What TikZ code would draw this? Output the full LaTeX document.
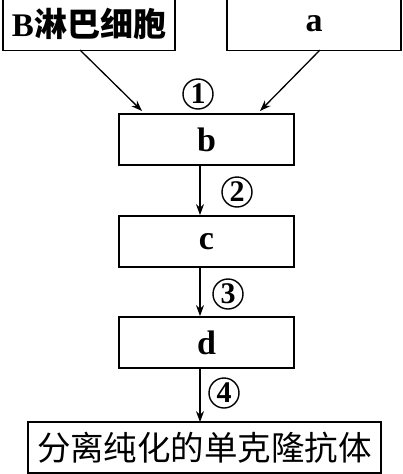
\documentclass[tikz,border=0pt]{standalone}
\usepackage{fontspec}
\setmainfont{Liberation Serif}
\newfontfamily\cjk{Noto Sans CJK SC}
\usetikzlibrary{arrows.meta}
\tikzset{
  box/.style={draw, line width=1.8pt, inner sep=0pt, minimum height=51pt},
  arr/.style={line width=1.3pt, -{Stealth[length=11pt,width=8pt]}},
  num/.style={circle, draw, line width=1.4pt, minimum size=30pt, inner sep=0pt, font=\fontsize{30}{30}\selectfont\bfseries},
  lat/.style={font=\fontsize{34}{34}\selectfont\bfseries}
}
\begin{document}
\begin{tikzpicture}[x=1pt,y=-1pt]
\useasboundingbox (0,0) rectangle (402,474);
\node[box, minimum width=172pt, minimum height=53pt, font=\fontsize{33}{33}\selectfont\bfseries] (B) at (89,24) {B\cjk 淋巴细胞};
\node[box, lat, minimum width=174pt, minimum height=53pt] (a) at (314,24) {a};
\node[box, lat, minimum width=175pt] (b) at (206.5,139.5) {b};
\node[box, lat, minimum width=175pt] (c) at (206.5,241.5) {c};
\node[box, lat, minimum width=175pt] (d) at (206.5,342.5) {d};
\node[box, minimum width=353pt, font=\fontsize{33.5}{33.5}\selectfont\cjk] (e) at (204.5,447.5) {分离纯化的单克隆抗体};
\coordinate (ax) at (200,0);
\coordinate (l1) at (80,50);
\coordinate (l2) at (142,111);
\coordinate (r1) at (320,50);
\coordinate (r2) at (260,111);
\draw[arr] (l1) -- (l2);
\draw[arr] (r1) -- (r2);
\draw[arr] (b.south -| ax) -- (c.north -| ax);
\draw[arr] (c.south -| ax) -- (d.north -| ax);
\draw[arr] (d.south -| ax) -- ([yshift=-1pt]e.north -| ax);
\node[num] (n1) at (198,94) {1};
\node[num] (n2) at (237,192) {2};
\node[num] (n3) at (228,294) {3};
\node[num] (n4) at (224,393) {4};
\end{tikzpicture}
\end{document}
